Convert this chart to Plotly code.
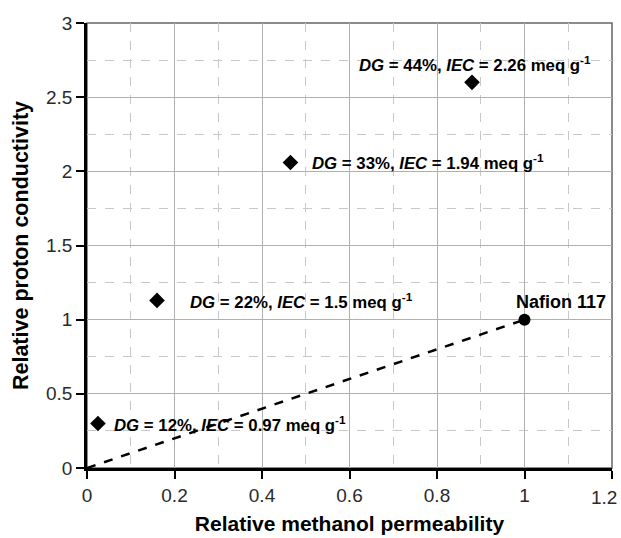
import plotly.graph_objects as go

# Data
perm = [0.025, 0.16, 0.465, 0.88]
cond = [0.30, 1.13, 2.06, 2.60]
dg = ["12%", "22%", "33%", "44%"]
iec = ["0.97", "1.5", "1.94", "2.26"]
nafion_x = [1.0]
nafion_y = [1.0]
line_x = [0, 1.0]
line_y = [0, 1.0]
x_tickvals = [0, 0.2, 0.4, 0.6, 0.8, 1.0, 1.2]
x_ticktext = ["0", "0.2", "0.4", "0.6", "0.8", "1", "1.2"]

FONT = "Liberation Sans, Arial"

fig = go.Figure()
fig.add_trace(go.Scatter(x=line_x, y=line_y, mode="lines",
                         line=dict(color="black", width=2.5, dash="dash"),
                         showlegend=False, hoverinfo="skip"))
fig.add_trace(go.Scatter(x=perm, y=cond, mode="markers",
                         marker=dict(symbol="diamond", size=12, color="black"),
                         showlegend=False))
fig.add_trace(go.Scatter(x=nafion_x, y=nafion_y, mode="markers",
                         marker=dict(symbol="circle", size=12, color="black"),
                         showlegend=False))

# label anchor offsets (position styling)
label_pos = [(0.057, 0.30), (0.23, 1.125), (0.51, 2.06), (0.618, 2.725)]
for (lx, ly), d, e in zip(label_pos, dg, iec):
    fig.add_annotation(x=lx, y=ly, xref="x", yref="y", xanchor="left", yanchor="middle",
                       text=f"<b><i>DG</i> = {d}, <i>IEC</i> = {e} meq g<sup>-1</sup></b>",
                       showarrow=False,
                       font=dict(family=FONT, size=16.8, color="black"))
fig.add_annotation(x=1.083, y=1.035, xref="x", yref="y", xanchor="center", yanchor="bottom",
                   text="<b>Nafion 117</b>", showarrow=False,
                   font=dict(family=FONT, size=18, color="black"))

# last x tick label is kept inside the page (as in the reference)
fig.add_annotation(x=x_tickvals[-1], y=0, xref="x", yref="paper", xanchor="right", yanchor="top",
                   xshift=7, yshift=-17, text=x_ticktext[-1], showarrow=False,
                   font=dict(family=FONT, size=19, color="#2a2a2a"))

# plot border (top/right)
fig.add_shape(type="rect", xref="paper", yref="paper", x0=0, y0=0, x1=1, y1=1,
              line=dict(color="#666666", width=1.5), layer="below")

axis_common = dict(
    showline=True, linecolor="black", linewidth=2.5,
    ticks="outside", ticklen=8, tickcolor="black", tickwidth=1.5,
    showgrid=True, gridcolor="#b0b0b0", gridwidth=1,
    zeroline=False, automargin=False, ticklabeloverflow="allow",
    tickfont=dict(family=FONT, size=19, color="#2a2a2a"),
)

fig.update_layout(
    width=621, height=538,
    margin=dict(l=87, r=9, t=23, b=70),
    paper_bgcolor="white", plot_bgcolor="white",
    font=dict(family=FONT, color="black"),
    xaxis=dict(range=[0, 1.2], tickvals=x_tickvals,
               ticktext=x_ticktext[:-1] + [""],
               minor=dict(dtick=0.1, showgrid=True, gridcolor="#c8c8c8", griddash="dash", gridwidth=1),
               title=dict(text="<b>Relative methanol permeability</b>", standoff=12,
                          font=dict(family=FONT, size=21, color="black")),
               **axis_common),
    yaxis=dict(range=[0, 3], dtick=0.5, tick0=0,
               minor=dict(dtick=0.25, showgrid=True, gridcolor="#c8c8c8", griddash="dash", gridwidth=1),
               title=dict(text="<b>Relative proton conductivity</b>", standoff=12,
                          font=dict(family=FONT, size=21.5, color="black")),
               **axis_common),
)

fig.write_html("out.html", config={"displayModeBar": False},
               post_script="document.body.style.margin='0';")
